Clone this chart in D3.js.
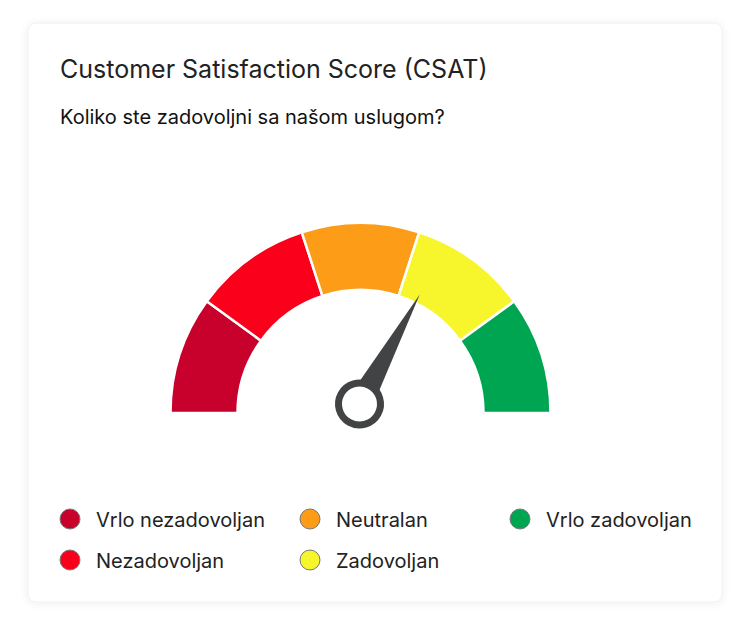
<!DOCTYPE html>
<html><head><meta charset="utf-8">
<script src="https://cdn.jsdelivr.net/npm/d3@7"></script>
<style>
html,body{margin:0;padding:0;background:#fff;}
svg{display:block;font-family:Inter,"Noto Sans",sans-serif;}
</style></head>
<body><svg id="chart" width="750" height="635"></svg>
<script>
const title = "Customer Satisfaction Score (CSAT)";
const question = "Koliko ste zadovoljni sa našom uslugom?";
const categories = ["Vrlo nezadovoljan","Nezadovoljan","Neutralan","Zadovoljan","Vrlo zadovoljan"];
const colors = ["#C8002C","#FA001A","#FD9D17","#F7F52B","#00A551"];
const segmentValues = [1,1,1,1,1];
const scoreMin = 0, scoreMax = 100;
const score = 66;

const svg = d3.select("#chart");
const defs = svg.append("defs");
const f = defs.append("filter").attr("id","sh").attr("x","-10%").attr("y","-10%").attr("width","120%").attr("height","120%");
f.append("feDropShadow").attr("dx",0).attr("dy",1).attr("stdDeviation",4).attr("flood-color","#000").attr("flood-opacity",0.07);

svg.append("rect").attr("x",28).attr("y",23).attr("width",694).attr("height",579)
  .attr("rx",8).attr("fill","#fff").attr("stroke","#f0f0f0").attr("filter","url(#sh)");

svg.append("text").attr("x",60).attr("y",78).attr("font-size",25).attr("fill","#222").text(title);
svg.append("text").attr("x",60).attr("y",124).attr("font-size",20).attr("fill","#111").text(question);

const cx = 360.5, cy = 413;
const g = svg.append("g").attr("transform",`translate(${cx},${cy})`);
const pie = d3.pie().sort(null).startAngle(-Math.PI/2).endAngle(Math.PI/2);
const arc = d3.arc().innerRadius(123).outerRadius(190);
g.selectAll("path.seg").data(pie(segmentValues)).join("path").attr("class","seg")
  .attr("d",arc).attr("fill",(d,i)=>colors[i]).attr("stroke","#fff").attr("stroke-width",2.5);

const angle = d3.scaleLinear().domain([scoreMin,scoreMax]).range([-90,90]);
const hx = 359.5, hy = 404;
const ng = svg.append("g").attr("transform",`translate(${hx},${hy}) rotate(${angle(score)})`);
ng.append("path").attr("d","M-13,0 L0,-125 L13,0 Z").attr("fill","#424345");
ng.append("circle").attr("r",21).attr("fill","#fff").attr("stroke","#424345").attr("stroke-width",7);

const legendPos = [[70,519],[70,560],[310,519],[310,560],[520,519]];
const lg = svg.append("g");
categories.forEach((c,i)=>{
  const [x,y] = legendPos[i];
  lg.append("circle").attr("cx",x).attr("cy",y).attr("r",10).attr("fill",colors[i]).attr("stroke","#777").attr("stroke-width",1);
  lg.append("text").attr("x",x+26).attr("y",y+8).attr("font-size",20).attr("fill","#222").text(c);
});
</script></body></html>
